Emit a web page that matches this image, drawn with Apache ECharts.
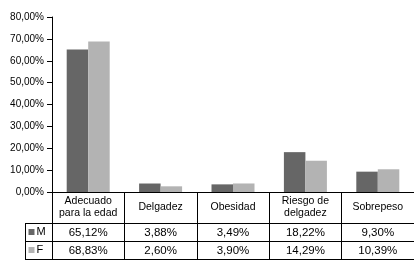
<!DOCTYPE html>
<html>
<head>
<meta charset="utf-8">
<script src="https://cdn.jsdelivr.net/npm/echarts@6/dist/echarts.min.js"></script>
<style>
html,body{margin:0;padding:0;background:#fff;}
#c{width:414px;height:267px;}
</style>
</head>
<body>
<div id="c"></div>
<script>
var categories = ['Adecuado\npara la edad', 'Delgadez', 'Obesidad', 'Riesgo de\ndelgadez', 'Sobrepeso'];
var seriesNames = ['M', 'F'];
var valuesM = [65.12, 3.88, 3.49, 18.22, 9.30];
var valuesF = [68.83, 2.60, 3.90, 14.29, 10.39];
var yTicks = { min: 0, max: 80, interval: 10 };

function fmt(v) { return v.toFixed(2).replace('.', ',') + '%'; }

var FONT = '"Liberation Sans", Arial, Helvetica, sans-serif';
var chart = echarts.init(document.getElementById('c'), null, { renderer: 'canvas' });

var lineBlack = { color: '#000', width: 1 };

chart.setOption({
  animation: false,
  backgroundColor: '#fff',
  textStyle: { fontFamily: FONT, color: '#000' },
  grid: { left: 52, top: 17, width: 365, height: 175, containLabel: false },
  legend: {
    data: seriesNames,
    orient: 'vertical',
    left: 28.5,
    top: 226.5,
    itemWidth: 6,
    itemHeight: 6,
    itemGap: 7,
    padding: 0,
    icon: 'rect',
    selectedMode: false,
    textStyle: { fontFamily: FONT, fontSize: 11, color: '#000', padding: [0, 0, 0, -3] }
  },
  xAxis: [
    {
      type: 'category', data: categories, position: 'bottom', gridIndex: 0,
      axisLine: { show: true, lineStyle: lineBlack },
      axisTick: { show: true, length: 67, interval: 0, lineStyle: lineBlack },
      axisLabel: { interval: 0, margin: 15, verticalAlign: 'middle', fontSize: 10.5, lineHeight: 12, color: '#000', fontFamily: FONT },
      splitLine: { show: false }
    },
    {
      type: 'category', data: categories, position: 'bottom', offset: 31, gridIndex: 0,
      axisLine: { show: true, lineStyle: lineBlack },
      axisTick: { show: false },
      axisLabel: { interval: 0, margin: 9.5, verticalAlign: 'middle', fontSize: 11.5, color: '#000', fontFamily: FONT,
        formatter: function (v, i) { return fmt(valuesM[i]); } },
      splitLine: { show: false }
    },
    {
      type: 'category', data: categories, position: 'bottom', offset: 49, gridIndex: 0,
      axisLine: { show: true, lineStyle: lineBlack },
      axisTick: { show: false },
      axisLabel: { interval: 0, margin: 9.5, verticalAlign: 'middle', fontSize: 11.5, color: '#000', fontFamily: FONT,
        formatter: function (v, i) { return fmt(valuesF[i]); } },
      splitLine: { show: false }
    },
    {
      type: 'category', data: categories, position: 'bottom', offset: 67, gridIndex: 0,
      axisLine: { show: true, lineStyle: lineBlack },
      axisTick: { show: false },
      axisLabel: { show: false },
      splitLine: { show: false }
    }
  ],
  yAxis: {
    type: 'value', min: yTicks.min, max: yTicks.max, interval: yTicks.interval,
    axisLine: { show: true, lineStyle: lineBlack },
    axisTick: { show: true, length: 5, lineStyle: lineBlack },
    axisLabel: { margin: 8, fontSize: 10, color: '#000', fontFamily: FONT, formatter: function (v) { return fmt(v); } },
    splitLine: { show: false }
  },
  series: [
    { name: seriesNames[0], type: 'bar', data: valuesM, xAxisIndex: 0, barWidth: 21.5, barGap: '0%', itemStyle: { color: '#666666' } },
    { name: seriesNames[1], type: 'bar', data: valuesF, xAxisIndex: 0, barWidth: 21.5, barGap: '0%', itemStyle: { color: '#b3b3b3' } }
  ],
  graphic: [
    { type: 'line', shape: { x1: 25, y1: 223.5, x2: 52, y2: 223.5 }, style: { stroke: '#000', lineWidth: 1 } },
    { type: 'line', shape: { x1: 25, y1: 241.5, x2: 52, y2: 241.5 }, style: { stroke: '#000', lineWidth: 1 } },
    { type: 'line', shape: { x1: 25, y1: 259.5, x2: 52, y2: 259.5 }, style: { stroke: '#000', lineWidth: 1 } },
    { type: 'line', shape: { x1: 25.5, y1: 223, x2: 25.5, y2: 260 }, style: { stroke: '#000', lineWidth: 1 } }
  ]
});
</script>
</body>
</html>
